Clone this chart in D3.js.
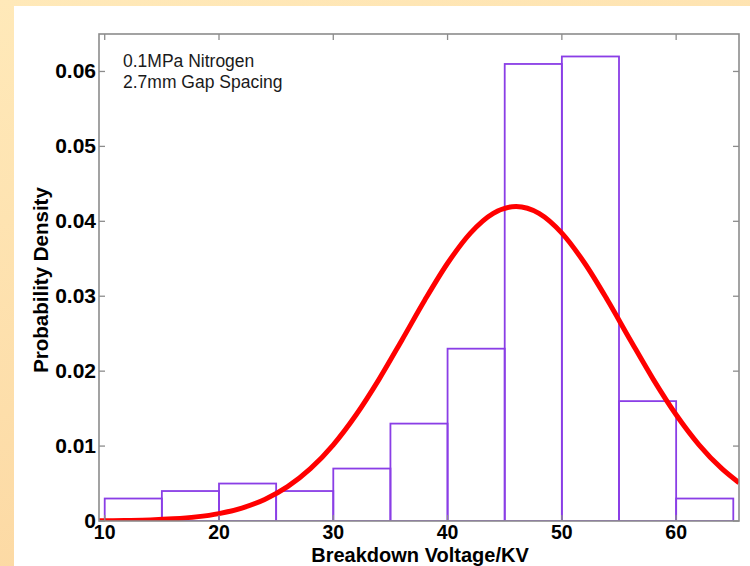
<!DOCTYPE html>
<html>
<head>
<meta charset="utf-8">
<script src="https://cdn.jsdelivr.net/npm/d3@7"></script>
<style>
  html, body { margin: 0; padding: 0; }
  body { width: 750px; height: 566px; overflow: hidden; }
  svg { display: block; }
</style>
</head>
<body>
<svg id="chart" width="750" height="566"></svg>
<script>
// Histogram bins (kV) and their probability densities
const binEdges = [10, 15, 20, 25, 30, 35, 40, 45, 50, 55, 60, 65];
const binDensity = [0.003, 0.004, 0.005, 0.004, 0.007, 0.013, 0.023, 0.061, 0.062, 0.016, 0.003];

// Fitted density curve, sampled along the voltage axis
const fitVoltage = [9.5, 10, 12, 14, 16, 18, 20, 22, 24, 26, 28, 30, 32, 34, 36, 38, 40, 42, 44, 46,
                    48, 50, 52, 54, 56, 58, 60, 62, 64, 65.5];
const fitDensity = [0.00003, 0.00003, 0.00007, 0.00014, 0.00029, 0.00055, 0.00099, 0.00173, 0.00288,
                    0.00458, 0.00698, 0.01017, 0.01418, 0.01891, 0.02413, 0.02946, 0.03440, 0.03843,
                    0.04107, 0.04199, 0.04107, 0.03843, 0.03440, 0.02946, 0.02413, 0.01891, 0.01418,
                    0.01017, 0.00698, 0.00511];

// Axis ticks
const xTicks = [10, 20, 30, 40, 50, 60];
const yTicks = [0, 0.01, 0.02, 0.03, 0.04, 0.05, 0.06];
const yTickLabels = ["0", "0.01", "0.02", "0.03", "0.04", "0.05", "0.06"];

const annotation = ["0.1MPa Nitrogen", "2.7mm Gap Spacing"];

const svg = d3.select("#chart");

// Slide-style peach frame with a white panel
const defs = svg.append("defs");
const grad = defs.append("linearGradient").attr("id", "frame")
  .attr("x1", "0").attr("y1", "0").attr("x2", "0.35").attr("y2", "1");
grad.append("stop").attr("offset", "0").attr("stop-color", "#ffe9b9");
grad.append("stop").attr("offset", "1").attr("stop-color", "#fcd8a2");
svg.append("rect").attr("width", 750).attr("height", 566).attr("fill", "url(#frame)");
svg.append("rect").attr("x", 14).attr("y", 6).attr("width", 736).attr("height", 560).attr("fill", "#fff");

const plotLeft = 99, plotRight = 739, plotTop = 34, plotBottom = 521;
const x = d3.scaleLinear().domain([9.5, 65.5]).range([plotLeft, plotRight]);
const y = d3.scaleLinear().domain([0, 0.065]).range([plotBottom, plotTop]);

defs.append("clipPath").attr("id", "plot")
  .append("rect").attr("x", plotLeft).attr("y", plotTop - 3)
  .attr("width", plotRight - plotLeft).attr("height", plotBottom - plotTop + 3);

const plot = svg.append("g").attr("clip-path", "url(#plot)");

// Histogram bars (outline only)
plot.append("g").selectAll("rect")
  .data(binDensity)
  .join("rect")
  .attr("x", (d, i) => x(binEdges[i]))
  .attr("y", d => y(d))
  .attr("width", (d, i) => x(binEdges[i + 1]) - x(binEdges[i]))
  .attr("height", d => y(0) - y(d))
  .attr("fill", "none")
  .attr("stroke", "#8a3ee6")
  .attr("stroke-width", 1.8);

// Fitted density curve
const line = d3.line()
  .x((d, i) => x(fitVoltage[i]))
  .y(d => y(d))
  .curve(d3.curveMonotoneX);
plot.append("path")
  .datum(fitDensity)
  .attr("d", line)
  .attr("fill", "none")
  .attr("stroke", "#ff0000")
  .attr("stroke-width", 5)
  .attr("stroke-linejoin", "round");

// Box frame
const frameColor = "#8c8c8c";
svg.append("rect")
  .attr("x", plotLeft).attr("y", plotTop)
  .attr("width", plotRight - plotLeft).attr("height", plotBottom - plotTop)
  .attr("fill", "none").attr("stroke", frameColor).attr("stroke-width", 1.6);

// Inward ticks on all four sides
const tickLen = 6;
const ticks = svg.append("g").attr("stroke", frameColor).attr("stroke-width", 1.3);
xTicks.forEach(t => {
  ticks.append("line").attr("x1", x(t)).attr("x2", x(t)).attr("y1", plotBottom).attr("y2", plotBottom - tickLen);
  ticks.append("line").attr("x1", x(t)).attr("x2", x(t)).attr("y1", plotTop).attr("y2", plotTop + tickLen);
});
yTicks.forEach(t => {
  ticks.append("line").attr("x1", plotLeft).attr("x2", plotLeft + tickLen).attr("y1", y(t)).attr("y2", y(t));
  ticks.append("line").attr("x1", plotRight).attr("x2", plotRight - tickLen).attr("y1", y(t)).attr("y2", y(t));
});

const font = "Liberation Sans, Arial, sans-serif";

// Tick labels
svg.append("g").selectAll("text")
  .data(xTicks)
  .join("text")
  .attr("x", d => x(d))
  .attr("y", 539)
  .attr("text-anchor", "middle")
  .attr("font-family", font).attr("font-weight", "bold").attr("font-size", 19.5)
  .attr("fill", "#000")
  .text(d => d);

svg.append("g").selectAll("text")
  .data(yTicks)
  .join("text")
  .attr("x", 96)
  .attr("y", d => y(d) + 7)
  .attr("text-anchor", "end")
  .attr("font-family", font).attr("font-weight", "bold").attr("font-size", 21)
  .attr("fill", "#000")
  .text((d, i) => yTickLabels[i]);

// Axis titles
svg.append("text")
  .attr("x", 420).attr("y", 561.5)
  .attr("text-anchor", "middle")
  .attr("font-family", font).attr("font-weight", "bold").attr("font-size", 20)
  .attr("fill", "#000")
  .text("Breakdown Voltage/KV");

svg.append("text")
  .attr("transform", "translate(48,280) rotate(-90)")
  .attr("text-anchor", "middle")
  .attr("font-family", font).attr("font-weight", "bold").attr("font-size", 20.5)
  .attr("fill", "#000")
  .text("Probability Density");

// Test condition note
svg.append("g").selectAll("text")
  .data(annotation)
  .join("text")
  .attr("x", 123)
  .attr("y", (d, i) => 67 + i * 21)
  .attr("font-family", font).attr("font-size", 17.5)
  .attr("fill", "#1a1a1a")
  .text(d => d);
</script>
</body>
</html>
